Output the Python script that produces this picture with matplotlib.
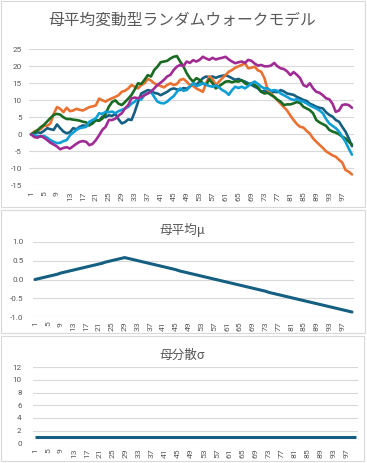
import matplotlib
matplotlib.use("Agg")
import matplotlib.pyplot as plt
from matplotlib.patches import Rectangle

# ---------------- data ----------------
title_main = "母平均変動型ランダムウォークモデル"
title_mu = "母平均μ"
title_sigma = "母分散σ"

series1 = [0, 0.3, 0.6, 0.4, 1.0, 1.8, 1.5, 1.3, 2.9, 1.8,
           0.8, 0.3, 0.6, 1.8, 1.5, 2.2, 2.6, 2.5, 2.7, 3.5,
           4.2, 4.0, 5.2, 5.0, 5.6, 5.4, 6.0, 4.4, 3.2, 3.6,
           4.4, 4.2, 6.6, 9.5, 12.0, 12.5, 13.0, 12.8, 12.2, 12.0,
           11.5, 12.0, 12.5, 13.2, 13.5, 13.2, 13.0, 13.6, 13.4, 14.0,
           15.0, 14.6, 15.5, 16.5, 17.0, 16.8, 17.0, 16.6, 17.0, 17.2,
           17.4, 17.0, 16.5, 16.0, 16.3, 15.8, 15.5, 15.0, 14.5, 14.0,
           13.5, 12.5, 12.8, 12.5, 12.2, 12.5, 12.4, 13.0, 12.6, 12.0,
           11.8, 11.6, 11.0, 10.6, 10.1, 9.8, 9.0, 8.6, 8.1, 7.8,
           7.6, 6.5, 5.7, 5.2, 4.2, 3.7, 2.2, 0.8, -1.2, -3.5]
series2 = [0, 0.8, 1.2, 1.5, 2.5, 2.5, 3.2, 6.0, 8.0, 7.5,
           6.5, 7.8, 6.8, 7.0, 7.5, 7.2, 7.0, 7.5, 8.0, 8.2,
           8.5, 10.5, 10.0, 9.6, 10.2, 10.6, 11.0, 11.5, 12.5, 12.8,
           13.5, 14.5, 14.0, 13.5, 14.5, 15.0, 16.3, 15.8, 15.0, 14.5,
           14.2, 13.8, 14.5, 15.0, 14.5, 14.8, 16.0, 16.3, 15.5, 14.5,
           14.2, 13.5, 13.0, 12.5, 15.0, 17.0, 16.2, 14.5, 15.5, 16.5,
           17.4, 18.4, 18.9, 19.6, 20.0, 20.4, 20.9, 19.4, 19.6, 19.9,
           18.8, 18.4, 16.5, 13.0, 12.0, 11.0, 10.0, 9.0, 8.0, 7.0,
           5.5, 4.2, 3.0, 2.2, 2.0, 1.0, 0.2, -1.2, -2.2, -3.1,
           -4.0, -5.0, -5.6, -6.2, -6.6, -7.5, -8.3, -10.5, -11.0, -11.8]
series3 = [0, 0.5, 1.2, 2.1, 2.8, 3.8, 4.8, 5.7, 6.0, 5.8,
           5.0, 4.5, 4.5, 4.3, 4.2, 4.0, 3.7, 3.5, 2.7, 3.2,
           4.2, 4.0, 4.6, 6.0, 8.1, 9.5, 10.0, 9.0, 8.6, 9.5,
           10.5, 11.6, 13.2, 15.0, 14.8, 16.0, 17.4, 17.0, 18.9, 19.9,
           21.2, 21.4, 21.6, 22.3, 22.8, 23.0, 21.4, 20.0, 18.0, 16.5,
           15.5, 16.5, 16.0, 15.0, 14.5, 16.2, 15.0, 13.5, 14.2, 14.8,
           15.5, 15.6, 15.3, 15.6, 15.5, 15.9, 15.0, 14.5, 15.0, 14.5,
           13.8, 12.5, 12.0, 12.2, 11.6, 11.0, 10.2, 9.6, 8.6, 8.8,
           8.8, 9.1, 9.5, 9.2, 8.1, 7.6, 7.1, 6.2, 4.2, 3.5,
           3.0, 2.5, 1.3, 0.8, 0.5, 0.0, -0.7, -1.2, -2.2, -3.0]
series4 = [0, -0.3, -0.5, -0.7, -0.5, -1.0, -1.7, -2.2, -2.6, -2.5,
           -2.0, -1.7, -0.3, 0.5, 1.3, 1.8, 2.0, 2.2, 3.7, 4.2,
           4.7, 6.2, 6.0, 6.6, 6.5, 6.7, 6.2, 6.8, 7.2, 7.6,
           8.1, 9.0, 9.6, 10.6, 10.2, 11.6, 12.0, 12.5, 11.0, 9.6,
           9.2, 9.1, 9.6, 10.5, 11.2, 12.5, 13.5, 12.8, 13.0, 14.0,
           15.0, 14.2, 14.5, 15.0, 14.6, 14.2, 14.0, 14.4, 13.8, 13.0,
           12.5, 11.6, 13.0, 14.0, 13.6, 14.0, 13.5, 14.2, 15.0, 15.5,
           14.8, 14.0, 13.5, 13.5, 12.8, 13.0, 12.8, 12.0, 11.5, 11.0,
           10.4, 10.1, 10.3, 9.8, 9.6, 9.1, 8.5, 8.0, 7.6, 7.0,
           6.2, 4.5, 3.2, 2.5, 1.8, 0.8, -0.7, -2.2, -4.2, -6.0]
series5 = [0, -0.8, -1.0, -0.5, -1.0, -1.7, -2.5, -3.0, -3.6, -4.4,
           -4.0, -3.8, -4.2, -3.5, -2.8, -2.2, -2.0, -2.2, -3.2, -2.8,
           -1.7, -0.3, 1.3, 2.2, 4.2, 4.2, 4.6, 5.5, 6.2, 7.6,
           8.6, 10.6, 10.8, 10.6, 11.0, 11.5, 12.0, 12.5, 13.5, 14.5,
           15.2, 16.0, 17.0, 17.5, 18.9, 19.9, 20.4, 20.0, 21.4, 21.0,
           21.8, 21.4, 21.9, 22.8, 22.3, 21.9, 22.5, 22.0, 22.3, 22.5,
           22.8, 22.0, 21.4, 20.9, 21.2, 21.4, 21.0, 21.9, 21.6, 20.8,
           20.2, 20.4, 20.0, 20.0, 20.2, 21.0, 20.0, 19.4, 19.2, 18.5,
           17.4, 18.3, 17.5, 16.5, 14.5, 14.0, 15.0, 13.5, 12.5, 12.2,
           11.5, 10.6, 10.3, 9.0, 6.6, 7.0, 8.6, 8.8, 8.6, 7.8]

mu = [0.00, 0.02, 0.04, 0.06, 0.08, 0.10, 0.12, 0.14, 0.17, 0.19,
      0.21, 0.23, 0.25, 0.27, 0.29, 0.31, 0.33, 0.35, 0.37, 0.39,
      0.41, 0.43, 0.46, 0.48, 0.50, 0.52, 0.54, 0.56, 0.58, 0.56,
      0.54, 0.52, 0.50, 0.48, 0.46, 0.44, 0.42, 0.40, 0.38, 0.36,
      0.34, 0.32, 0.30, 0.28, 0.26, 0.23, 0.21, 0.19, 0.17, 0.15,
      0.13, 0.11, 0.09, 0.07, 0.05, 0.03, 0.01, -0.01, -0.03, -0.05,
      -0.07, -0.09, -0.11, -0.13, -0.15, -0.17, -0.19, -0.21, -0.23, -0.25,
      -0.27, -0.29, -0.31, -0.34, -0.36, -0.38, -0.40, -0.42, -0.44, -0.46,
      -0.48, -0.50, -0.52, -0.54, -0.56, -0.58, -0.60, -0.62, -0.64, -0.66,
      -0.68, -0.70, -0.72, -0.74, -0.76, -0.78, -0.80, -0.82, -0.84, -0.86]

sigma = [1, 1, 1, 1, 1, 1, 1, 1, 1, 1,
         1, 1, 1, 1, 1, 1, 1, 1, 1, 1,
         1, 1, 1, 1, 1, 1, 1, 1, 1, 1,
         1, 1, 1, 1, 1, 1, 1, 1, 1, 1,
         1, 1, 1, 1, 1, 1, 1, 1, 1, 1,
         1, 1, 1, 1, 1, 1, 1, 1, 1, 1,
         1, 1, 1, 1, 1, 1, 1, 1, 1, 1,
         1, 1, 1, 1, 1, 1, 1, 1, 1, 1,
         1, 1, 1, 1, 1, 1, 1, 1, 1, 1,
         1, 1, 1, 1, 1, 1, 1, 1, 1, 1]

x_ticks = [1, 5, 9, 13, 17, 21, 25, 29, 33, 37, 41, 45, 49, 53, 57, 61, 65, 69, 73, 77, 81, 85, 89, 93, 97]
y1_ticks = [-15, -10, -5, 0, 5, 10, 15, 20, 25]
y2_ticks = [-1.0, -0.5, 0.0, 0.5, 1.0]
y2_labels = ["-1.0", "-0.5", "0.0", "0.5", "1.0"]
y3_ticks = [0, 2, 4, 6, 8, 10, 12]

# ---------------- style ----------------
plt.rcParams["font.family"] = ["Roboto", "Noto Sans CJK JP", "DejaVu Sans"]
plt.rcParams["axes.unicode_minus"] = False

series_colors = ["#156082", "#E97132", "#196B24", "#0F9ED5", "#A02B93"]
grid_c = "#D9D9D9"
text_c = "#595959"
border_c = "#D9D9D9"

W, H = 367, 463
fig = plt.figure(figsize=(W / 100, H / 100), dpi=100)
fig.patch.set_facecolor("white")


def add_ax(x0, x1, ytop, ybot):
    return fig.add_axes([x0 / W, 1 - ybot / H, (x1 - x0) / W, (ybot - ytop) / H])


def style(ax, yticks, ylabels, ypad, xpad):
    for s in ax.spines.values():
        s.set_visible(False)
    ax.set_yticks(yticks)
    ax.set_yticklabels(ylabels)
    ax.set_xticks(x_ticks)
    ax.set_xticklabels([str(t) for t in x_ticks], rotation=90)
    ax.yaxis.grid(True, color=grid_c, lw=0.8)
    ax.set_axisbelow(True)
    ax.tick_params(axis="y", length=0, pad=ypad, labelsize=5.9, labelcolor=text_c)
    ax.tick_params(axis="x", length=0, pad=xpad, labelsize=6.1, labelcolor=text_c)
    ax.set_xlim(0.5, 100.5)


# chart borders
for (x0, y0, x1, y1) in [(1, 1, 365, 207), (1, 210, 365, 333), (1, 336, 364, 461)]:
    fig.patches.append(Rectangle((x0 / W, 1 - y1 / H), (x1 - x0) / W, (y1 - y0) / H,
                                 transform=fig.transFigure, fill=False,
                                 edgecolor=border_c, lw=0.8))

xs = list(range(1, len(series1) + 1))

# ---- chart 1 ----
ax1 = add_ax(29.4, 353.6, 49.3, 185.3)
for s, c in zip([series1, series2, series3, series4, series5], series_colors):
    ax1.plot(xs, s, color=c, lw=1.9, solid_joinstyle="round", solid_capstyle="round")
ax1.set_ylim(-15, 25)
style(ax1, y1_ticks, [str(t) for t in y1_ticks], 5.5, 4.3)
fig.text(182 / W, 1 - 20 / H, title_main, ha="center", va="center",
         fontsize=11.3, color=text_c, family=["Noto Sans CJK JP", "DejaVu Sans"])

# ---- chart 2 ----
ax2 = add_ax(33.4, 353.6, 241.7, 317.3)
ax2.plot(xs, mu, color=series_colors[0], lw=2.2, solid_joinstyle="round", solid_capstyle="round")
ax2.set_ylim(-1.0, 1.0)
style(ax2, y2_ticks, y2_labels, 7.0, 3.2)
fig.text(182 / W, 1 - 230 / H, title_mu, ha="center", va="center",
         fontsize=9.1, color=text_c, family=["Noto Sans CJK JP", "DejaVu Sans"])

# ---- chart 3 ----
ax3 = add_ax(33.4, 358.0, 367.3, 443.3)
ax3.plot(xs, sigma, color=series_colors[0], lw=2.2, solid_capstyle="butt")
ax3.set_ylim(0, 12)
style(ax3, y3_ticks, [str(t) for t in y3_ticks], 8.4, 3.6)
fig.text(182 / W, 1 - 355 / H, title_sigma, ha="center", va="center",
         fontsize=9.1, color=text_c, family=["Noto Sans CJK JP", "DejaVu Sans"])

fig.savefig("out.png", dpi=100)
